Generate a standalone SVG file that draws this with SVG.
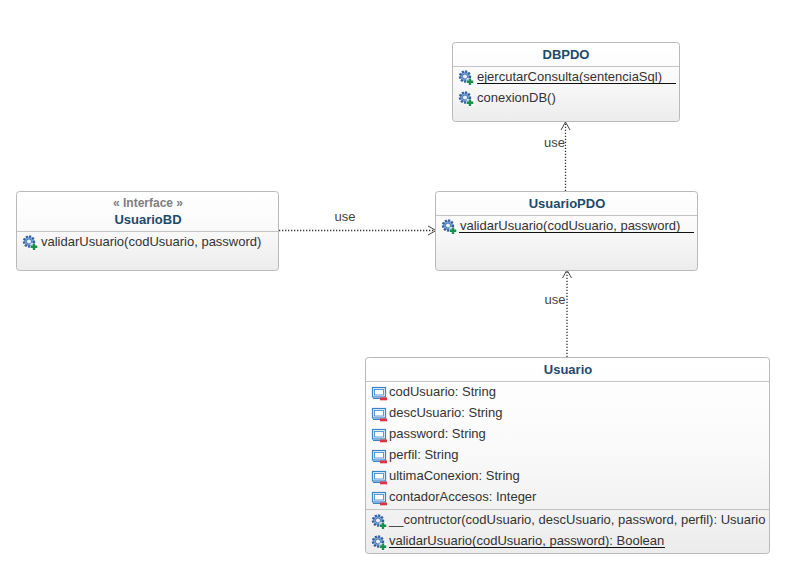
<svg xmlns="http://www.w3.org/2000/svg" width="791" height="577" viewBox="0 0 791 577">
<style>
.box{fill:url(#nodeFill);stroke:#b9b9b9;stroke-width:1}
.sep{stroke:#c4c4c4;stroke-width:1;fill:none}
.title{font:bold 13px "Liberation Sans",Arial,sans-serif;fill:#1d4a6d;text-anchor:middle}
.stereo{font:bold 12px "Liberation Sans",Arial,sans-serif;fill:#7f7f7f;text-anchor:middle}
.m{font:13px "Liberation Sans",Arial,sans-serif;fill:#333}
.ul{stroke:#111;stroke-width:1;fill:none}
.edge{stroke:#333;stroke-width:1.3;stroke-dasharray:1.3 1.7;fill:none}
.lab{font:13px "Liberation Sans",Arial,sans-serif;fill:#444}
</style>
<defs>
<linearGradient id="nodeFill" x1="0" y1="0" x2="0" y2="1"><stop offset="0" stop-color="#ffffff"/><stop offset="0.45" stop-color="#fafafa"/><stop offset="1" stop-color="#ececec"/></linearGradient>
<marker id="open" markerWidth="12" markerHeight="12" refX="10" refY="6" orient="auto" markerUnits="userSpaceOnUse"><path d="M2 1.500L10 6L2 10.500" fill="none" stroke="#444" stroke-width="1"/></marker>
<g id="op">
<circle cx="6.500" cy="6.500" r="5" fill="#7fa5d8" stroke="#2f5f9f" stroke-width="2.400" stroke-dasharray="2 1.300"/>
<circle cx="6.500" cy="6.500" r="2.500" fill="#e8f0fa" stroke="#2f5f9f" stroke-width="0.800"/>
<rect x="8" y="8" width="7.500" height="7.500" fill="#fff" opacity="0.7"/>
<path d="M11.500 8.500v6.500M8.200 11.700h6.600" stroke="#1a8f4a" stroke-width="2.400"/>
</g>
<g id="attr">
<rect x="1.500" y="1.500" width="13" height="9.500" fill="#e8f1fb" stroke="#3a84c6" stroke-width="1.200"/>
<rect x="3.500" y="3.500" width="9" height="5.500" fill="#fff" stroke="#3a84c6" stroke-width="0.800"/>
<path d="M2 12.500h8" stroke="#3a84c6" stroke-width="1"/>
<rect x="9" y="11.500" width="7" height="2.800" fill="#d9343f"/>
</g>
</defs>

<g id="connectors">
<path class="edge" d="M565.500 191V122" marker-end="url(#open)"/>
<path class="edge" d="M279 230.500H436" marker-end="url(#open)"/>
<path class="edge" d="M567 357V270" marker-end="url(#open)"/>
<text class="lab" x="544" y="147">use</text>
<text class="lab" x="334.500" y="221">use</text>
<text class="lab" x="544.500" y="304">use</text>
</g>

<g id="DBPDO">
<rect class="box" x="452.500" y="42.500" width="227" height="79" rx="3"/>
<path class="sep" d="M453 66.500H679"/>
<text class="title" x="566" y="59">DBPDO</text>
<use href="#op" x="458.500" y="70"/>
<text class="m" x="477" y="81">ejercutarConsulta(sentenciaSql)</text>
<path class="ul" d="M477 83.500H676"/>
<use href="#op" x="458.500" y="91"/>
<text class="m" x="477" y="102">conexionDB()</text>
</g>

<g id="UsuarioBD">
<rect class="box" x="16.500" y="191.500" width="262" height="79" rx="3"/>
<path class="sep" d="M17 231.500H278"/>
<text class="stereo" x="148" y="207">« Interface »</text>
<text class="title" x="148" y="224">UsuarioBD</text>
<use href="#op" x="22.500" y="235"/>
<text class="m" x="41" y="246">validarUsuario(codUsuario, password)</text>
</g>

<g id="UsuarioPDO">
<rect class="box" x="435.500" y="191.500" width="262" height="79" rx="3"/>
<path class="sep" d="M436 215.500H697"/>
<text class="title" x="567" y="208">UsuarioPDO</text>
<use href="#op" x="441.500" y="219"/>
<text class="m" x="460" y="230">validarUsuario(codUsuario, password)</text>
<path class="ul" d="M459 232.500H694"/>
</g>

<g id="Usuario">
<rect class="box" x="365.500" y="357.500" width="404" height="196" rx="3"/>
<path class="sep" d="M366 381.500H769"/>
<path class="sep" d="M366 509.500H769"/>
<text class="title" x="568" y="374">Usuario</text>
<use href="#attr" x="371" y="386"/>
<text class="m" x="389" y="396">codUsuario: String</text>
<use href="#attr" x="371" y="407"/>
<text class="m" x="389" y="417">descUsuario: String</text>
<use href="#attr" x="371" y="428"/>
<text class="m" x="389" y="438">password: String</text>
<use href="#attr" x="371" y="449"/>
<text class="m" x="389" y="459">perfil: String</text>
<use href="#attr" x="371" y="470"/>
<text class="m" x="389" y="480">ultimaConexion: String</text>
<use href="#attr" x="371" y="491"/>
<text class="m" x="389" y="501">contadorAccesos: Integer</text>
<use href="#op" x="371.500" y="514"/>
<text class="m" x="389" y="524">__contructor(codUsuario, descUsuario, password, perfil): Usuario</text>
<use href="#op" x="371.500" y="535"/>
<text class="m" x="389" y="545">validarUsuario(codUsuario, password): Boolean</text>
<path class="ul" d="M389 547.500H665"/>
</g>
</svg>
